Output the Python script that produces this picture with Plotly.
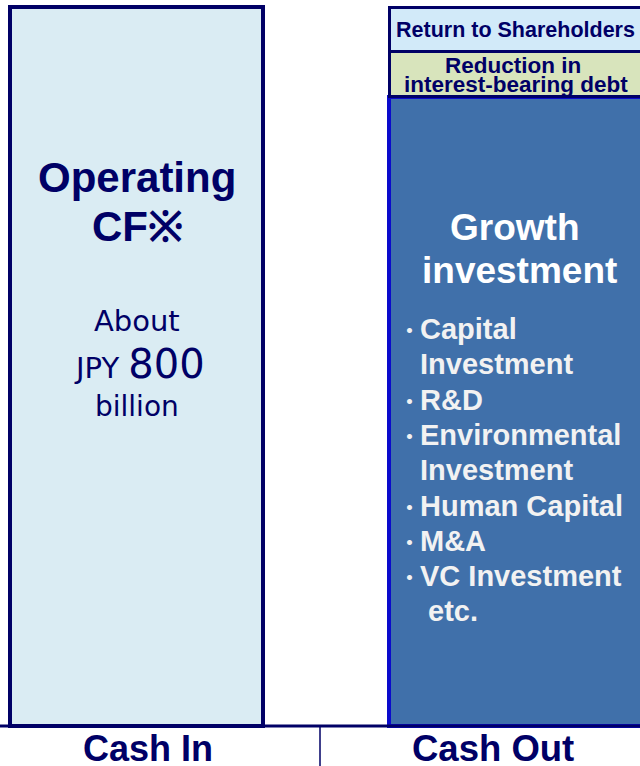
import plotly.graph_objects as go

# flows (JPY billion, approx.)
categories = ['Cash In', 'Cash Out']
cash_in = [800]
growth_investment = [700]
debt_reduction = [50]
shareholder_return = [50]

growth_items = ['Capital', 'Investment', 'R&amp;D', 'Environmental', 'Investment',
                'Human Capital', 'M&amp;A', 'VC Investment', '\u00a0etc.']
growth_bullets = [True, False, True, True, False, True, True, True, False]

NAVY = '#000066'
W, H = 640, 766
BOLD = 'Arial, Liberation Sans, sans-serif'
SOFT = 'DejaVu Sans, Verdana, sans-serif'


def py(p):
    # pixel row -> paper y
    return 1 - p / H


def px_(p):
    return p / W


fig = go.Figure()
fig.add_bar(x=[categories[0]], y=cash_in, width=0.6675,
            marker=dict(color='#DAECF3', line=dict(color=NAVY, width=4)))
fig.add_bar(x=[categories[1]], y=growth_investment, width=0.6675,
            marker=dict(color='#4070AA', line=dict(color='#0A0ACC', width=4)))
fig.add_bar(x=[categories[1]], y=debt_reduction, width=0.6675,
            marker=dict(color='#D8E4BC', line=dict(color=NAVY, width=3)))
fig.add_bar(x=[categories[1]], y=shareholder_return, width=0.6675,
            marker=dict(color='#D2EAF9', line=dict(color=NAVY, width=3)))

fig.update_traces(hoverinfo='skip')

ann = []


def label(text, x, y, size, color=NAVY, family=BOLD, xanchor='center'):
    ann.append(dict(text=text, x=px_(x), y=py(y), xref='paper', yref='paper',
                    xanchor=xanchor, yanchor='middle', showarrow=False,
                    font=dict(family=family, size=size, color=color)))


# cash in
label('<b>Operating</b>', 137, 178, 42)
label('<b>CF※</b>', 137, 226, 42)
label('About', 137, 321, 29, family=SOFT)
label("<span style='font-size:29px'>JPY\u00a0</span>800", 139, 364, 40, family=SOFT)
label('billion', 137, 406, 28, family=SOFT)

# cash out
label('<b>Return to Shareholders</b>', 515, 30, 21.5)
label('<b>Reduction in</b>', 513, 65, 22.5)
label('<b>interest-bearing debt</b>', 516, 84, 22.5)
label('<b>Growth</b>', 514, 228, 37, color='white')
label('<b>investment</b>', 519, 271, 37, color='white')
for i, (item, b) in enumerate(zip(growth_items, growth_bullets)):
    y = 329 + i * 35.3
    if b:
        label('･', 409, y, 30, color='#F2F2F2', family='Noto Sans CJK JP')
    label('<b>' + item + '</b>', 418, y, 29, color='#F2F2F2', xanchor='left')

# axis labels
label('<b>Cash In</b>', 148, 748, 36)
label('<b>Cash Out</b>', 493, 748, 36.5)

fig.update_layout(
    width=W, height=H,
    barmode='stack',
    showlegend=False,
    margin=dict(l=0, r=0, t=0, b=0),
    paper_bgcolor='white',
    plot_bgcolor='white',
    xaxis=dict(visible=False, range=[-0.3602, 1.3285]),
    yaxis=dict(visible=False, range=[-44.5, 807.8]),
    annotations=ann,
    shapes=[
        dict(type='line', xref='paper', yref='y', x0=0, x1=1, y0=0, y1=0,
             line=dict(color=NAVY, width=3)),
        dict(type='line', xref='paper', yref='y', x0=0.5, x1=0.5, y0=0, y1=-44.5,
             line=dict(color=NAVY, width=1.5)),
    ],
)

fig.write_html('out.html', config={'displayModeBar': False},
               post_script="document.body.style.margin='0';")
